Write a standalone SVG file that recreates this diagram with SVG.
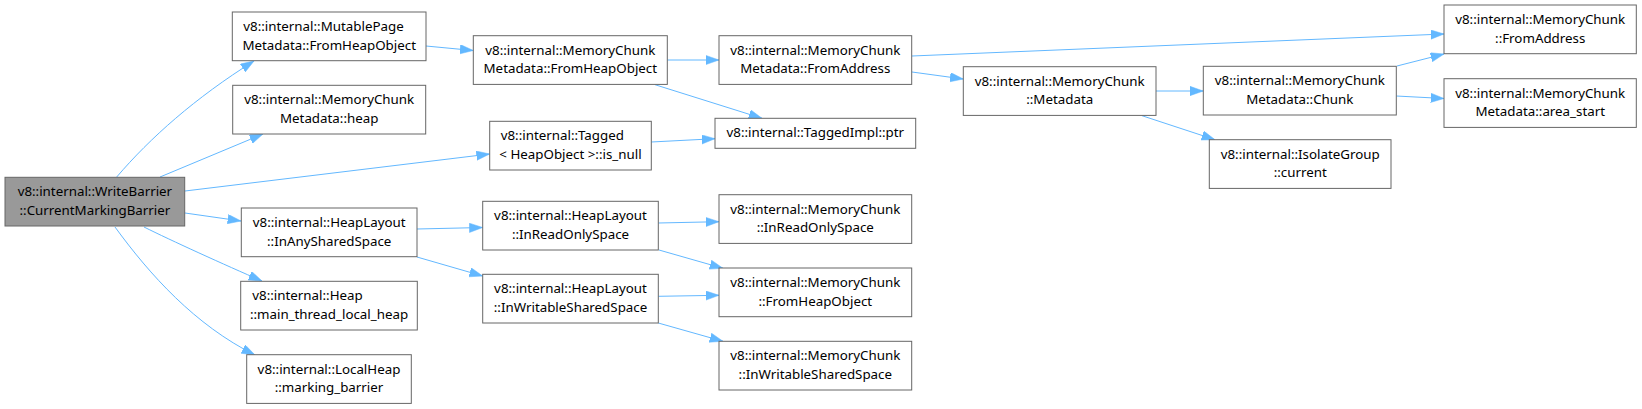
<svg xmlns="http://www.w3.org/2000/svg" width="1642" height="409" viewBox="0 0 1642 409">
<style>
.n rect{fill:#fff;stroke:#666;stroke-width:1}
.root rect{fill:#999}
text{font-family:"Noto Sans","DejaVu Sans",sans-serif;font-size:13.33px;fill:#000}
.m{text-anchor:middle}
.s{text-anchor:start}
.e path{fill:none;stroke:#63b8ff;stroke-width:1;marker-end:url(#ah)}
</style>
<defs>
<marker id="ah" markerUnits="userSpaceOnUse" markerWidth="14" markerHeight="10" refX="13.3" refY="4.67" orient="auto">
<path d="M0,0 L13.3,4.67 L0,9.33 z" fill="#63b8ff" stroke="#63b8ff" stroke-width="0.5"/>
</marker>
</defs>
<rect width="1642" height="409" fill="#fff"/>
<g id="connectors" class="e">
<path d="M116.7,177 C150,138 195,98 254,61"/>
<path d="M160,177 L263,134"/>
<path d="M185,191 L489.7,154"/>
<path d="M185,213 L241,221"/>
<path d="M144,227 C170,240 225,265 262,281"/>
<path d="M115,227 C150,275 195,325 255,355"/>
<path d="M426,46 L473.3,50.5"/>
<path d="M667.3,60 L719,60"/>
<path d="M655,84.7 L762,118.3"/>
<path d="M651.3,142 L715,138.7"/>
<path d="M912,56 L1444,34"/>
<path d="M912,72 L963.3,79"/>
<path d="M1156,91 L1203.3,91"/>
<path d="M1142,115.7 L1215,139.7"/>
<path d="M1397,66 L1444,54"/>
<path d="M1396.3,96 L1444,98.5"/>
<path d="M417,229 L482.7,227.5"/>
<path d="M417,257 L482.7,276"/>
<path d="M658.3,223 L719,221.7"/>
<path d="M659,250 L723,268.3"/>
<path d="M658.3,296.3 L719,295.3"/>
<path d="M658.3,323 L723,341.3"/>
</g>
<g id="node-writebarrier" class="n root">
<rect x="5" y="177.3" width="179.7" height="48.7"/>
<text class="m" x="94.9" y="196.2">v8::internal::WriteBarrier</text>
<text class="m" x="94.9" y="214.8">::CurrentMarkingBarrier</text>
</g>
<g id="node-mutablepage" class="n">
<rect x="232.3" y="12" width="193.7" height="48.7"/>
<text class="s" x="243.3" y="30.9">v8::internal::MutablePage</text>
<text class="m" x="329.2" y="49.5">Metadata::FromHeapObject</text>
</g>
<g id="node-mcm-heap" class="n">
<rect x="232.7" y="85.3" width="193" height="48.7"/>
<text class="m" x="329.2" y="104.2">v8::internal::MemoryChunk</text>
<text class="m" x="329.2" y="122.8">Metadata::heap</text>
</g>
<g id="node-tagged-isnull" class="n">
<rect x="489.7" y="121.3" width="161.6" height="48.7"/>
<text class="s" x="500.7" y="140.2">v8::internal::Tagged</text>
<text class="m" x="570.5" y="158.8">&lt; HeapObject &gt;::is_null</text>
</g>
<g id="node-hl-inanyshared" class="n">
<rect x="241.3" y="208" width="175.7" height="48.7"/>
<text class="m" x="329.2" y="226.9">v8::internal::HeapLayout</text>
<text class="m" x="329.2" y="245.5">::InAnySharedSpace</text>
</g>
<g id="node-heap-mainthread" class="n">
<rect x="240.7" y="281.3" width="176.6" height="48.7"/>
<text class="s" x="252.3" y="300.2">v8::internal::Heap</text>
<text class="m" x="329" y="318.8">::main_thread_local_heap</text>
</g>
<g id="node-localheap" class="n">
<rect x="246.7" y="354.7" width="164.6" height="48.7"/>
<text class="m" x="329" y="373.6">v8::internal::LocalHeap</text>
<text class="m" x="329" y="392.2">::marking_barrier</text>
</g>
<g id="node-mcm-fromheapobject" class="n">
<rect x="473.3" y="35.7" width="194" height="48.7"/>
<text class="m" x="570.3" y="54.6">v8::internal::MemoryChunk</text>
<text class="m" x="570.3" y="73.2">Metadata::FromHeapObject</text>
</g>
<g id="node-mcm-fromaddress" class="n">
<rect x="719" y="35.7" width="192.7" height="48.7"/>
<text class="m" x="815.3" y="54.6">v8::internal::MemoryChunk</text>
<text class="m" x="815.3" y="73.2">Metadata::FromAddress</text>
</g>
<g id="node-taggedimpl-ptr" class="n">
<rect x="715" y="118.3" width="200.7" height="30"/>
<text class="m" x="815.3" y="137.2">v8::internal::TaggedImpl::ptr</text>
</g>
<g id="node-hl-inreadonly" class="n">
<rect x="482.7" y="201.3" width="175.6" height="48.7"/>
<text class="m" x="570.5" y="220.2">v8::internal::HeapLayout</text>
<text class="m" x="570.5" y="238.8">::InReadOnlySpace</text>
</g>
<g id="node-hl-inwritable" class="n">
<rect x="482.7" y="274.3" width="175.6" height="48.7"/>
<text class="m" x="570.5" y="293.2">v8::internal::HeapLayout</text>
<text class="m" x="570.5" y="311.8">::InWritableSharedSpace</text>
</g>
<g id="node-mc-inreadonly" class="n">
<rect x="719" y="194.7" width="192.7" height="48.7"/>
<text class="m" x="815.3" y="213.6">v8::internal::MemoryChunk</text>
<text class="m" x="815.3" y="232.2">::InReadOnlySpace</text>
</g>
<g id="node-mc-fromheapobject" class="n">
<rect x="719" y="268" width="192.7" height="48.7"/>
<text class="m" x="815.3" y="286.9">v8::internal::MemoryChunk</text>
<text class="m" x="815.3" y="305.5">::FromHeapObject</text>
</g>
<g id="node-mc-inwritable" class="n">
<rect x="719" y="341.3" width="192.7" height="48.7"/>
<text class="m" x="815.3" y="360.2">v8::internal::MemoryChunk</text>
<text class="m" x="815.3" y="378.8">::InWritableSharedSpace</text>
</g>
<g id="node-mc-metadata" class="n">
<rect x="963.3" y="66.7" width="192.7" height="48.7"/>
<text class="m" x="1059.7" y="85.6">v8::internal::MemoryChunk</text>
<text class="m" x="1059.7" y="104.2">::Metadata</text>
</g>
<g id="node-mcm-chunk" class="n">
<rect x="1203.3" y="66.3" width="193" height="48.7"/>
<text class="m" x="1299.8" y="85.2">v8::internal::MemoryChunk</text>
<text class="m" x="1299.8" y="103.8">Metadata::Chunk</text>
</g>
<g id="node-isolategroup" class="n">
<rect x="1209.3" y="139.7" width="181.7" height="48.7"/>
<text class="m" x="1300.2" y="158.6">v8::internal::IsolateGroup</text>
<text class="m" x="1300.2" y="177.2">::current</text>
</g>
<g id="node-mc-fromaddress" class="n">
<rect x="1444" y="5" width="192.3" height="48.7"/>
<text class="m" x="1540.2" y="23.9">v8::internal::MemoryChunk</text>
<text class="m" x="1540.2" y="42.5">::FromAddress</text>
</g>
<g id="node-mcm-areastart" class="n">
<rect x="1444" y="78.7" width="192.3" height="48.7"/>
<text class="m" x="1540.2" y="97.6">v8::internal::MemoryChunk</text>
<text class="m" x="1540.2" y="116.2">Metadata::area_start</text>
</g>
</svg>
